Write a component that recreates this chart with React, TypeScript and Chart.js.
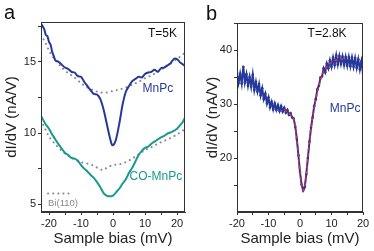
import React, { useEffect, useRef } from 'react';
import { Chart, registerables } from 'chart.js';
Chart.register(...registerables);

const FONT = '"Liberation Sans", Arial, Helvetica, sans-serif';
const AXIS = '#333333';
const BLUE = '#26399a';
const TEAL = '#179a8c';
const GRAY = '#8a8a8a';
const RED = '#e8283c';

// ---------- Panel a ----------
const aXTicks = [-20, -15, -10, -5, 0, 5, 10, 15, 20];
const aYTicks = [5, 7.5, 10, 12.5, 15, 17.5];

const mnpcX = [-22.5, -21.5, -21, -20.5, -20, -19.5, -19, -18.5, -18, -17, -16, -15, -14, -13, -12, -11, -10, -9, -8, -7, -6, -5, -4, -3, -2, -1, -0.3, 0.3, 1, 2, 3, 4, 5, 6, 7, 8, 9, 10, 11, 12, 13, 14, 15, 16, 17, 18, 19, 20, 21, 22, 22.5];
const mnpcY = [17.7, 17.3, 16.9, 16.8, 16.4, 16.2, 15.7, 15.4, 15.1, 15.0, 14.8, 14.6, 14.5, 14.3, 14.25, 14.0, 13.95, 13.6, 13.3, 13.0, 12.75, 12.7, 12.4, 11.7, 10.7, 9.7, 9.15, 9.2, 9.6, 10.7, 12.0, 12.9, 13.3, 13.65, 13.8, 13.95, 13.9, 14.15, 14.25, 14.3, 14.45, 14.3, 14.55, 14.6, 14.75, 14.9, 15.2, 15.2, 14.95, 14.8, 14.7];

const biAX = [-22.5, -21, -20, -18, -16, -14, -12, -10, -8, -6, -4, -2, 0, 2, 4, 6, 8, 10, 12, 14, 16, 18, 20, 22, 22.5];
const biAY = [16.9, 16.3, 15.8, 15.1, 14.6, 14.2, 13.9, 13.5, 13.2, 13.0, 12.85, 12.85, 12.95, 13.05, 13.2, 13.4, 13.6, 13.85, 14.05, 14.3, 14.6, 14.9, 15.2, 15.55, 15.65];

const coX = [-22.5, -21, -20, -19, -18, -17, -16, -15, -14, -13, -12, -11, -10, -9, -8, -7, -6, -5, -4, -3, -2, -1, 0, 1, 2, 3, 4, 5, 6, 7, 8, 9, 10, 11, 12, 13, 14, 15, 16, 17, 18, 19, 20, 21, 22, 22.5];
const coY = [11.2, 10.6, 10.3, 9.9, 9.55, 9.2, 8.9, 8.6, 8.45, 8.25, 8.2, 8.05, 7.75, 7.5, 7.3, 7.05, 6.85, 6.55, 6.2, 5.8, 5.6, 5.55, 5.6, 5.85, 6.1, 6.45, 6.75, 7.2, 7.55, 8.0, 8.45, 8.75, 8.95, 9.05, 9.25, 9.4, 9.55, 9.7, 9.8, 9.95, 10.05, 10.15, 10.3, 10.55, 10.85, 11.1];

const biBX = [-22.5, -21, -20, -18, -16, -14, -12, -10, -8, -6, -4, -3, -2, 0, 2, 4, 6, 8, 10, 12, 14, 16, 18, 20, 22, 22.5];
const biBY = [10.9, 10.2, 9.75, 9.2, 8.75, 8.4, 8.15, 7.95, 7.85, 7.7, 7.45, 7.4, 7.55, 7.75, 7.8, 7.95, 8.2, 8.5, 8.8, 9.0, 9.25, 9.45, 9.65, 9.9, 10.2, 10.3];

const legendX = [-20.3, -12.5];
const legendY = [5.75, 5.75];

// ---------- Panel b ----------
const bXTicks = [-20, -15, -10, -5, 0, 5, 10, 15, 20];
const bYTicks = [15, 20, 25, 30, 35, 40, 45];

const rawX = [-20, -19.5, -19, -18.5, -18, -17.5, -17, -16.5, -16, -15.5, -15, -14.5, -14, -13.5, -13, -12.5, -12, -11.5, -11, -10.5, -10, -9.5, -9, -8.5, -8, -7.5, -7, -6.5, -6, -5.5, -5, -4.5, -4, -3.5, -3, -2.5, -2, -1.5, -1, -0.5, 0, 0.5, 1, 1.5, 2, 2.5, 3, 3.5, 4, 4.5, 5, 5.5, 6, 6.5, 7, 7.5, 8, 8.5, 9, 9.5, 10, 10.5, 11, 11.5, 12, 12.5, 13, 13.5, 14, 14.5, 15, 15.5, 16, 16.5, 17, 17.5, 18, 18.5, 19, 19.5, 20];
const rawY = [35.8, 33.9, 35.6, 33.8, 36.9, 34.0, 35.5, 33.4, 35.0, 33.2, 35.4, 32.6, 34.1, 32.3, 33.7, 31.6, 32.9, 30.9, 31.9, 30.1, 31.2, 29.4, 30.4, 29.0, 30.1, 28.9, 29.8, 28.7, 29.6, 28.6, 29.3, 28.4, 28.9, 28.0, 28.3, 27.5, 27.3, 25.8, 23.5, 20.5, 17.4, 15.1, 14.0, 14.6, 17.0, 20.0, 23.0, 25.6, 27.5, 29.6, 30.9, 32.7, 33.4, 34.9, 35.1, 36.6, 35.9, 37.5, 36.6, 38.1, 36.9, 38.6, 37.2, 39.0, 37.3, 38.9, 37.4, 38.8, 37.2, 38.7, 37.1, 38.7, 37.0, 38.6, 36.9, 38.5, 36.7, 38.3, 36.4, 37.9, 35.6];

const fitX = [-5, -4, -3, -2, -1.5, -1, -0.5, 0, 0.5, 1, 1.5, 2, 2.5, 3, 3.5, 4, 5, 6, 7, 8, 9, 10, 11, 12, 13, 14];
const fitY = [28.9, 28.5, 28.0, 27.2, 25.8, 23.5, 20.5, 17.4, 15.0, 14.0, 14.6, 17.0, 20.0, 23.0, 25.6, 27.6, 30.8, 33.4, 35.3, 36.5, 37.2, 37.7, 38.0, 38.2, 38.3, 38.3];

const pts = (xs: number[], ys: number[]) => xs.map((x, i) => ({ x, y: ys[i] }));

type Note = { text: string; x: number; y: number; align: CanvasTextAlign; color: string; size: number };

const framePlugin = {
  id: 'frameNotes',
  afterDatasetsDraw(chart: any, _args: any, opts: any) {
    const { ctx, chartArea, scales } = chart;
    ctx.save();
    ctx.strokeStyle = AXIS;
    ctx.lineWidth = 1;
    ctx.strokeRect(chartArea.left + 0.5, chartArea.top + 0.5, chartArea.right - chartArea.left - 1, chartArea.bottom - chartArea.top - 1);
    const notes: Note[] = opts.notes || [];
    notes.forEach((n) => {
      ctx.font = `${n.size}px ${FONT}`;
      ctx.fillStyle = n.color;
      ctx.textAlign = n.align;
      ctx.textBaseline = 'middle';
      ctx.fillText(n.text, scales.x.getPixelForValue(n.x), scales.y.getPixelForValue(n.y));
    });
    if (opts.label) {
      ctx.font = `${opts.label.size}px ${FONT}`;
      ctx.fillStyle = '#111';
      ctx.textAlign = 'left';
      ctx.textBaseline = 'alphabetic';
      ctx.fillText(opts.label.text, opts.label.px, opts.label.py);
    }
    ctx.restore();
  },
};

const isMult = (v: number, m: number) => Math.abs(v - Math.round(v / m) * m) < 1e-6;

function makeScales(xmin: number, xmax: number, xTicks: number[], ymin: number, ymax: number, yTicks: number[], ylabStep: number, yWidth: number, yTitlePad: number) {
  const tickFont = { family: FONT, size: 11 };
  const titleFont = { family: FONT, size: 15 };
  return {
    x: {
      type: 'linear',
      min: xmin,
      max: xmax,
      afterFit: (s: any) => { s.height = 39; },
      afterBuildTicks: (s: any) => { s.ticks = xTicks.map((value) => ({ value })); },
      border: { display: true, color: AXIS },
      grid: { drawOnChartArea: false, drawTicks: true, tickLength: 3, color: AXIS },
      ticks: {
        autoSkip: false,
        maxRotation: 0,
        padding: 2,
        color: '#222',
        font: tickFont,
        callback: (v: number) => (isMult(v, 10) ? String(v) : ''),
      },
      title: { display: true, text: 'Sample bias (mV)', color: '#222', font: titleFont, padding: { top: 0, bottom: 3 } },
    },
    y: {
      type: 'linear',
      min: ymin,
      max: ymax,
      afterFit: (s: any) => { s.width = yWidth; },
      afterBuildTicks: (s: any) => { s.ticks = yTicks.map((value) => ({ value })); },
      border: { display: true, color: AXIS },
      grid: { drawOnChartArea: false, drawTicks: true, tickLength: 3, color: AXIS },
      ticks: {
        autoSkip: false,
        padding: 2,
        color: '#222',
        font: tickFont,
        callback: (v: number) => (isMult(v, ylabStep) ? String(v) : ''),
      },
      title: { display: true, text: 'dI/dV (nA/V)', color: '#222', font: titleFont, padding: { top: yTitlePad, bottom: 0 } },
    },
  };
}

function PanelA() {
  const ref = useRef<HTMLCanvasElement>(null);
  useEffect(() => {
    const chart = new Chart(ref.current!, {
      type: 'line',
      data: {
        datasets: [
          { data: pts(mnpcX, mnpcY), borderColor: BLUE, borderWidth: 2, pointRadius: 0, tension: 0.3 },
          { data: pts(coX, coY), borderColor: TEAL, borderWidth: 2, pointRadius: 0, tension: 0.3 },
          { data: pts(biAX, biAY), borderColor: GRAY, borderWidth: 2, borderDash: [0.1, 5], borderCapStyle: 'round', pointRadius: 0, tension: 0.3 },
          { data: pts(biBX, biBY), borderColor: GRAY, borderWidth: 2, borderDash: [0.1, 5], borderCapStyle: 'round', pointRadius: 0, tension: 0.3 },
          { data: pts(legendX, legendY), borderColor: GRAY, borderWidth: 2, borderDash: [0.1, 5], borderCapStyle: 'round', pointRadius: 0 },
        ],
      } as any,
      options: {
        responsive: false,
        animation: false,
        devicePixelRatio: 1,
        layout: { padding: { top: 22, right: 5, left: 0, bottom: 0 } },
        plugins: {
          legend: { display: false },
          tooltip: { enabled: false },
          frameNotes: {
            notes: [
              { text: 'T=5K', x: 20, y: 17.0, align: 'right', color: '#111', size: 12 },
              { text: 'MnPc', x: 14, y: 13.1, align: 'center', color: BLUE, size: 12 },
              { text: 'CO-MnPc', x: 13.4, y: 6.95, align: 'center', color: TEAL, size: 12 },
              { text: 'Bi(110)', x: -20.3, y: 5.05, align: 'left', color: GRAY, size: 9.5 },
            ],
            label: { text: 'a', size: 20, px: 4, py: 19 },
          },
        } as any,
        scales: makeScales(-22.5, 22.5, aXTicks, 4.45, 17.8, aYTicks, 5, 41, 3) as any,
      },
      plugins: [framePlugin],
    });
    return () => chart.destroy();
  }, []);
  return <canvas ref={ref} width={190} height={251} style={{ position: 'absolute', left: 0, top: 0, width: 190, height: 251 }} />;
}

function PanelB() {
  const ref = useRef<HTMLCanvasElement>(null);
  useEffect(() => {
    const chart = new Chart(ref.current!, {
      type: 'line',
      data: {
        datasets: [
          { data: pts(fitX, fitY), borderColor: RED, borderWidth: 1.6, borderDash: [3, 3], pointRadius: 0, tension: 0.3 },
          { data: pts(rawX, rawY), borderColor: BLUE, backgroundColor: BLUE, borderWidth: 2, pointRadius: 1.3, pointBorderWidth: 0, tension: 0 },
        ],
      } as any,
      options: {
        responsive: false,
        animation: false,
        devicePixelRatio: 1,
        layout: { padding: { top: 23, right: 11, left: 0, bottom: 0 } },
        plugins: {
          legend: { display: false },
          tooltip: { enabled: false },
          frameNotes: {
            notes: [
              { text: 'T=2.8K', x: 8.6, y: 43.0, align: 'center', color: '#111', size: 12 },
              { text: 'MnPc', x: 14.3, y: 29.1, align: 'center', color: BLUE, size: 12 },
            ],
            label: { text: 'b', size: 20, px: 16, py: 20 },
          },
        } as any,
        scales: makeScales(-20, 20, bXTicks, 10, 45, bYTicks, 10, 47, 14) as any,
      },
      plugins: [framePlugin],
    });
    return () => chart.destroy();
  }, []);
  return <canvas ref={ref} width={184} height={251} style={{ position: 'absolute', left: 190, top: 0, width: 184, height: 251 }} />;
}

export default function App() {
  return (
    <div style={{ position: 'fixed', left: 0, top: 0, width: 374, height: 251, background: '#fff', overflow: 'hidden' }}>
      <PanelA />
      <PanelB />
    </div>
  );
}
